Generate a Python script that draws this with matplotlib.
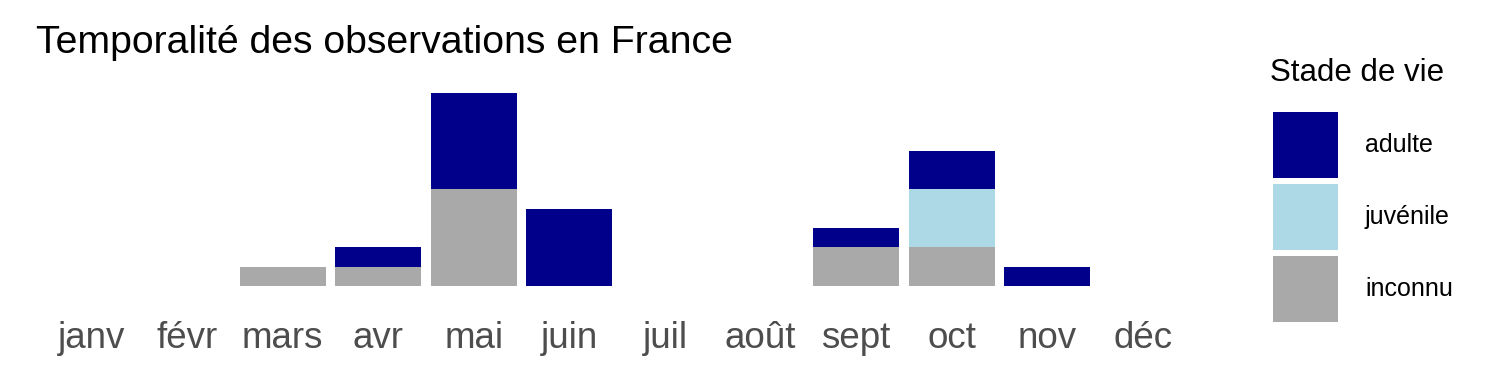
import matplotlib.pyplot as plt
import numpy as np

plt.rcParams['font.family'] = ['Liberation Sans', 'DejaVu Sans']

mois = ['janv', 'févr', 'mars', 'avr', 'mai', 'juin', 'juil', 'août', 'sept', 'oct', 'nov', 'déc']
inconnu = [0, 0, 1, 1, 5, 0, 0, 0, 2, 2, 0, 0]
juvenile = [0, 0, 0, 0, 0, 0, 0, 0, 0, 3, 0, 0]
adulte = [0, 0, 0, 1, 5, 4, 0, 0, 1, 2, 1, 0]

couleurs = {'adulte': '#00008B', 'juvénile': '#ADD8E6', 'inconnu': '#A9A9A9'}

fig = plt.figure(figsize=(15, 3.75), dpi=100)
ax = fig.add_axes([0.0228, 0.2117, 0.7773, 0.566])

x = np.arange(1, len(mois) + 1)
inc = np.array(inconnu)
juv = np.array(juvenile)
adu = np.array(adulte)
b1 = ax.bar(x, inc, width=0.9, color=couleurs['inconnu'], label='inconnu')
b2 = ax.bar(x, juv, width=0.9, bottom=inc, color=couleurs['juvénile'], label='juvénile')
b3 = ax.bar(x, adu, width=0.9, bottom=inc + juv, color=couleurs['adulte'], label='adulte')

ax.set_xlim(0.4, 12.6)
total = inc + juv + adu
ax.set_ylim(-0.05 * total.max(), total.max() * 1.05)
ax.set_xticks(x)
ax.set_xticklabels(mois, fontsize=26.5, color='#4D4D4D')
ax.tick_params(axis='x', length=0, pad=18)
ax.set_yticks([])
for s in ax.spines.values():
    s.set_visible(False)

fig.text(0.024, 0.886, 'Temporalité des observations en France', fontsize=28.3,
         ha='left', va='center')

# titre de légende à part pour régler l'écart
fig.text(0.8467, 1 - 73 / 375, 'Stade de vie', fontsize=22.5, ha='left', va='center')
leg = fig.legend([b3, b2, b1], ['adulte', 'juvénile', 'inconnu'],
                 loc='upper left', bbox_to_anchor=(0.8487, 1 - 112 / 375),
                 frameon=False, fontsize=18, handlelength=2.6, handleheight=3.685,
                 labelspacing=0.24, handletextpad=1.08, borderpad=0,
                 borderaxespad=0)

fig.savefig('out.png', dpi=100)
